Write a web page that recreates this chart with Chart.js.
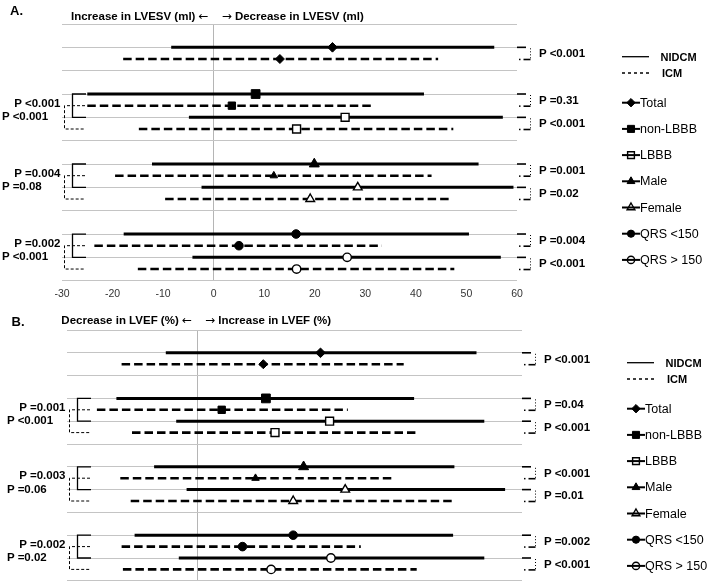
<!DOCTYPE html>
<html>
<head>
<meta charset="utf-8">
<script src="https://cdn.jsdelivr.net/npm/chart.js@4.4.1/dist/chart.umd.min.js"></script>
<style>
body{margin:0;background:#fff;}
#wrap{position:relative;width:709px;height:588px;overflow:hidden;font-family:"Liberation Sans",Arial,sans-serif;color:#000;background:#fff;}
canvas{position:absolute;left:0;}
.t{position:absolute;white-space:nowrap;line-height:1;transform:translateY(-50%);z-index:2;}
.ar{font-family:"DejaVu Sans",sans-serif;font-weight:normal;font-size:12px;}
</style>
</head>
<body>
<div id="wrap">
  <canvas id="cA" width="709" height="300" style="top:0px"></canvas>
  <canvas id="cB" width="709" height="288" style="top:300px"></canvas>
</div>
<script>
// subgroups, top to bottom
const groups = ['Total', 'non-LBBB', 'LBBB', 'Male', 'Female', 'QRS <150', 'QRS > 150'];

// A. change in LVESV (ml)
const lvesvNidcmEst = [23.5, 8.3, 26.0, 19.9, 28.5, 16.3, 26.4];
const lvesvNidcmLo  = [-8.4, -25.0, -4.9, -12.2, -2.4, -17.8, -4.2];
const lvesvNidcmHi  = [55.5, 41.6, 57.2, 52.4, 59.3, 50.5, 56.8];
const lvesvIcmEst   = [13.1, 3.6, 16.4, 11.9, 19.1, 5.0, 16.4];
const lvesvIcmLo    = [-17.9, -25.0, -14.8, -19.5, -9.6, -23.6, -15.0];
const lvesvIcmHi    = [44.4, 31.7, 47.4, 43.1, 47.2, 33.3, 47.6];
const lvesvTicks    = [-30, -20, -10, 0, 10, 20, 30, 40, 50, 60];
const lvesvP        = ['P <0.001', 'P =0.31', 'P <0.001', 'P =0.001', 'P =0.02', 'P =0.004', 'P <0.001'];
const lvesvPairP    = [['P <0.001', 'P <0.001'], ['P =0.004', 'P =0.08'], ['P =0.002', 'P <0.001']];

// B. change in LVEF (%)
const lvefNidcmEst = [9.5, 5.3, 10.2, 8.2, 11.4, 7.4, 10.3];
const lvefNidcmLo  = [-2.4, -6.2, -1.6, -3.3, -0.8, -4.8, -1.4];
const lvefNidcmHi  = [21.5, 16.7, 22.1, 19.8, 23.7, 19.7, 22.1];
const lvefIcmEst   = [5.1, 1.9, 6.0, 4.5, 7.4, 3.5, 5.7];
const lvefIcmLo    = [-5.8, -7.7, -5.0, -5.9, -5.1, -5.8, -5.7];
const lvefIcmHi    = [15.9, 11.6, 16.8, 15.0, 19.8, 12.6, 16.9];
const lvefP        = ['P <0.001', 'P =0.04', 'P <0.001', 'P <0.001', 'P =0.01', 'P =0.002', 'P <0.001'];
const lvefPairP    = [['P =0.001', 'P <0.001'], ['P =0.003', 'P =0.06'], ['P =0.002', 'P =0.02']];

// layout: row index of each NIDCM line (ICM sits one row below)
const rowsN = [2, 6, 8, 12, 14, 18, 20];
const pairRows = [6, 12, 18];
const markers = [
  {style: 'rectRot',  fill: true,  r: [4.8, 4.5], lr: 4.2},
  {style: 'rect',     fill: true,  r: [6.2, 5.2], lr: 5},
  {style: 'rect',     fill: false, r: [5.6, 5.6], lr: 4.8},
  {style: 'triangle', fill: true,  r: [5.8, 4.3], lr: 4.5},
  {style: 'triangle', fill: false, r: [5, 5],     lr: 4.5},
  {style: 'circle',   fill: true,  r: [4.3, 4.3], lr: 3.6},
  {style: 'circle',   fill: false, r: [4.2, 4.2], lr: 3.6}
];

const wrap = document.getElementById('wrap');
function addText(str, x, y, o) {
  const d = document.createElement('div');
  d.className = 't';
  if (o.arrow) {
    // arrow glyph in a font that has it at full size
    const parts = str.split(o.arrow);
    d.appendChild(document.createTextNode(parts[0]));
    const s = document.createElement('span');
    s.className = 'ar';
    s.textContent = o.arrow;
    d.appendChild(s);
    d.appendChild(document.createTextNode(parts[1]));
  } else {
    d.textContent = str;
  }
  d.style.fontSize = (o.size || 11.5) + 'px';
  d.style.fontWeight = o.bold ? 'bold' : 'normal';
  d.style.top = y + 'px';
  if (o.right) d.style.right = (709 - x) + 'px';
  else d.style.left = x + 'px';
  wrap.appendChild(d);
}

function seg(ctx, pts, w, dash) {
  ctx.beginPath();
  ctx.lineWidth = w;
  ctx.setLineDash(dash || []);
  ctx.moveTo(pts[0][0], pts[0][1]);
  for (let k = 1; k < pts.length; k++) ctx.lineTo(pts[k][0], pts[k][1]);
  ctx.stroke();
}

const decor = {
  id: 'decor',
  afterDraw(chart) {
    const ctx = chart.ctx, a = chart.chartArea, ys = chart.scales.y;
    const py = v => ys.getPixelForValue(v);
    ctx.save();
    ctx.strokeStyle = '#000';
    ctx.fillStyle = '#000';
    // right brackets NIDCM vs ICM
    rowsN.forEach(r => {
      const y1 = py(r), y2 = py(r + 1);
      seg(ctx, [[a.right, y1], [a.right + 9, y1]], 1.6);
      seg(ctx, [[a.right + 13.5, y1 + 1], [a.right + 13.5, y2]], 1, [1, 2]);
      seg(ctx, [[a.right + 6.5, y2 + 0.5], [a.right + 13.5, y2 + 0.5]], 1.6);
      ctx.fillRect(a.right + 2, y2 - 0.3, 1.5, 1.5);
    });
    // left brackets between subgroups
    pairRows.forEach(r => {
      const y0 = py(r), y1 = py(r + 1), y2 = py(r + 2), y3 = py(r + 3);
      seg(ctx, [[a.left + 24, y0], [a.left + 10.5, y0], [a.left + 10.5, y2], [a.left + 24, y2]], 1.3);
      seg(ctx, [[a.left + 23, y1], [a.left + 2.5, y1], [a.left + 2.5, y3], [a.left + 23, y3]], 1, [3, 2]);
    });
    // legend symbols
    const x0 = a.right + 105;
    seg(ctx, [[x0, a.top + 32.7], [x0 + 27, a.top + 32.7]], 1.3);
    seg(ctx, [[x0, a.top + 49], [x0 + 27, a.top + 49]], 1.3, [3, 3]);
    ctx.setLineDash([]);
    markers.forEach((m, k) => {
      const y = a.top + 78.7 + k * 26.2;
      seg(ctx, [[x0, y], [x0 + 18, y]], 2);
      ctx.fillStyle = m.fill ? '#000' : 'rgba(0,0,0,0)';
      ctx.lineWidth = m.fill ? 1 : 1.4;
      Chart.helpers.drawPoint(ctx, {pointStyle: m.style, radius: m.lr, borderWidth: ctx.lineWidth, rotation: 0}, x0 + 9, y);
    });
    ctx.restore();
  }
};

function makePanel(id, top, cfg) {
  const ds = [];
  groups.forEach((g, i) => {
    const r = rowsN[i], m = markers[i];
    ds.push({label: g + ' NIDCM', data: [{x: cfg.nLo[i], y: r}, {x: cfg.nHi[i], y: r}], showLine: true,
      borderColor: '#000', borderWidth: 3, pointRadius: 0, order: 2});
    ds.push({label: g + ' ICM', data: [{x: cfg.iLo[i], y: r + 1}, {x: cfg.iHi[i], y: r + 1}], showLine: true,
      borderColor: '#000', borderWidth: 2.6, borderDash: [8.5, 4], pointRadius: 0, order: 2});
    ds.push({label: g, data: [{x: cfg.nEst[i], y: r}, {x: cfg.iEst[i], y: r + 1}], showLine: false,
      pointStyle: m.style, pointRadius: m.r, backgroundColor: m.fill ? '#000' : '#fff',
      borderColor: '#000', borderWidth: m.fill ? 1 : 1.4, order: 1});
  });

  const chart = new Chart(document.getElementById(id), {
    type: 'scatter',
    data: {datasets: ds},
    plugins: [decor],
    options: {
      responsive: false,
      animation: false,
      events: [],
      layout: {padding: cfg.pad},
      plugins: {legend: {display: false}, tooltip: {enabled: false}},
      scales: {
        x: {
          type: 'linear', position: 'bottom', min: cfg.min, max: cfg.max,
          afterBuildTicks: s => { s.ticks = cfg.ticks.map(v => ({value: v})); },
          ticks: {display: cfg.showTicks, color: '#333', padding: 7, maxRotation: 0, autoSkip: false,
            font: {size: 10.5, family: '"Liberation Sans", Arial, sans-serif'}},
          grid: {drawTicks: false, lineWidth: 1,
            color: c => (c.tick && c.tick.value === 0) ? '#b5b5b5' : 'rgba(0,0,0,0)'},
          border: {display: false},
          afterFit: s => { s.height = cfg.axisH; }
        },
        y: {
          type: 'linear', min: 0, max: 22, reverse: true,
          ticks: {display: false, stepSize: 2},
          grid: {drawTicks: false, color: '#c4c4c4', lineWidth: 1},
          border: {display: false},
          afterFit: s => { s.width = 0; }
        }
      }
    }
  });

  const a = chart.chartArea, ys = chart.scales.y, xs = chart.scales.x;
  const py = v => top + ys.getPixelForValue(v);
  const zero = xs.getPixelForValue(0);
  addText(cfg.letter, cfg.letterX, cfg.letterY, {bold: true, size: 13});
  addText(cfg.titleL, zero - 5, top + a.top - cfg.titleDy, {bold: true, right: true, arrow: '\u2190'});
  addText(cfg.titleR, zero + 8, top + a.top - cfg.titleDy, {bold: true, arrow: '\u2192'});
  rowsN.forEach((r, i) => {
    addText(cfg.p[i], a.right + 22, (py(r) + py(r + 1)) / 2 + 1, {bold: true});
  });
  pairRows.forEach((r, k) => {
    addText(cfg.pairP[k][0], a.left - 1.5, py(r) + 9.5, {bold: true, right: true});
    addText(cfg.pairP[k][1], a.left - 60, py(r) + 23, {bold: true});
  });
  const x0 = a.right + 105;
  addText('NIDCM', x0 + 38.5, top + a.top + 32.7, {bold: true, size: 11});
  addText('ICM', x0 + 40, top + a.top + 49, {bold: true, size: 11});
  groups.forEach((g, k) => {
    addText(g, x0 + 18, top + a.top + 78.7 + k * 26.2, {size: 12.5});
  });
  return chart;
}

makePanel('cA', 0, {
  nEst: lvesvNidcmEst, nLo: lvesvNidcmLo, nHi: lvesvNidcmHi,
  iEst: lvesvIcmEst, iLo: lvesvIcmLo, iHi: lvesvIcmHi,
  min: -30, max: 60, ticks: lvesvTicks, showTicks: true,
  pad: {left: 62, right: 192, top: 24, bottom: 0}, axisH: 19.3,
  p: lvesvP, pairP: lvesvPairP,
  letter: 'A.', letterX: 10, letterY: 10,
  titleL: 'Increase in LVESV (ml) \u2190', titleR: '\u2192 Decrease in LVESV (ml)', titleDy: 8
});

makePanel('cB', 300, {
  nEst: lvefNidcmEst, nLo: lvefNidcmLo, nHi: lvefNidcmHi,
  iEst: lvefIcmEst, iLo: lvefIcmLo, iHi: lvefIcmHi,
  min: -10, max: 25, ticks: [-10, -5, 0, 5, 10, 15, 20, 25], showTicks: false,
  pad: {left: 67, right: 187, top: 30, bottom: 0}, axisH: 1.3,
  p: lvefP, pairP: lvefPairP,
  letter: 'B.', letterX: 11.5, letterY: 321,
  titleL: 'Decrease in LVEF (%) \u2190', titleR: '\u2192 Increase in LVEF (%)', titleDy: 10
});
</script>
</body>
</html>
